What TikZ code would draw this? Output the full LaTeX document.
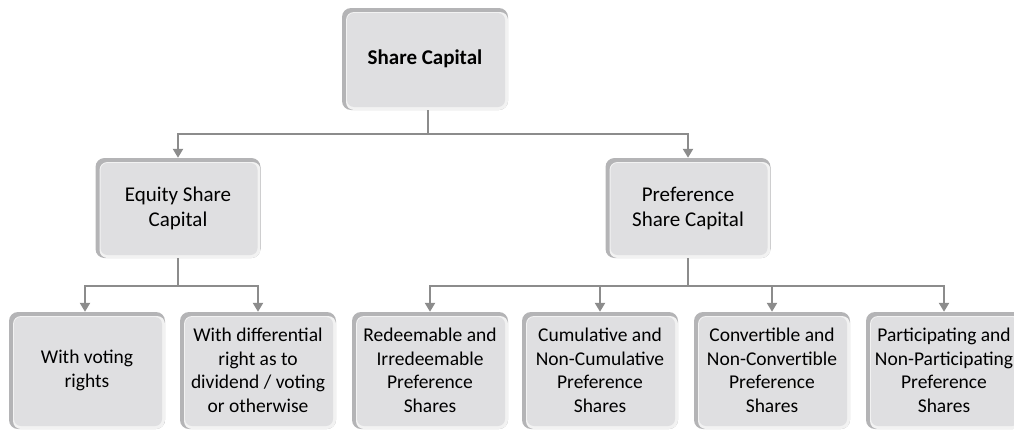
\documentclass[tikz,border=0pt]{standalone}
\usepackage{fontspec}
\setmainfont{Carlito}
\usetikzlibrary{arrows.meta}
\definecolor{bevel}{HTML}{B4B4B6}
\definecolor{facec}{HTML}{DFDFE1}
\definecolor{edgec}{HTML}{F2F2F2}
\definecolor{connc}{HTML}{8C8C8C}
\tikzset{
  box/.style={rounded corners=9pt, fill=bevel, align=center, inner sep=2pt,
    font=\fontsize{19.5}{23.5}\selectfont,
    path picture={
      \fill[edgec,rounded corners=8pt] ([shift={(4pt,-4pt)}]path picture bounding box.north west) rectangle (path picture bounding box.south east);
      \fill[facec,rounded corners=7pt] ([shift={(5pt,-5pt)}]path picture bounding box.north west) rectangle ([shift={(-3pt,3pt)}]path picture bounding box.south east);
    }},
  midbox/.style={box, minimum width=165pt, minimum height=100pt, font=\fontsize{21}{25}\selectfont},
  lowbox/.style={box, minimum width=156pt, minimum height=117pt},
  conn/.style={draw=connc, line width=2.2pt, -{Triangle[width=10pt,length=9pt]}}
}
\begin{document}
\begin{tikzpicture}[x=1pt,y=-1pt]
\useasboundingbox (0,0) rectangle (1014,431);
\node[box, minimum width=166pt, minimum height=102pt, font=\fontsize{21}{25}\selectfont\bfseries] (top) at (425,59) {Share Capital};
\node[midbox] (eq) at (178,208) {Equity Share\\Capital};
\node[midbox] (pr) at (688,208) {Preference\\Share Capital};
\node[lowbox] (b1) at (87,370.5) {With voting\\rights};
\node[lowbox] (b2) at (258,370.5) {With differential\\right as to\\dividend / voting\\or otherwise};
\node[lowbox] (b3) at (430,370.5) {Redeemable and\\Irredeemable\\Preference\\Shares};
\node[lowbox] (b4) at (600,370.5) {Cumulative and\\Non-Cumulative\\Preference\\Shares};
\node[lowbox] (b5) at (772,370.5) {Convertible and\\Non-Convertible\\Preference\\Shares};
\node[lowbox] (b6) at (944,370.5) {Participating and\\Non-Participating\\Preference\\Shares};
\coordinate (j1) at (428,134);
\coordinate (j2) at (178,286);
\coordinate (j3) at (688,286);
\draw[conn] ([xshift=3pt]top.south) -- (j1) -| (eq.north);
\draw[conn] (j1) -| (pr.north);
\draw[conn] (eq.south) -- (j2) -| ([xshift=-2pt]b1.north);
\draw[conn] (j2) -| (b2.north);
\draw[conn] (pr.south) -- (j3) -| (b3.north);
\draw[conn] (j3) -| (b4.north);
\draw[conn] (j3) -| (b5.north);
\draw[conn] (j3) -| (b6.north);
\end{tikzpicture}
\end{document}
